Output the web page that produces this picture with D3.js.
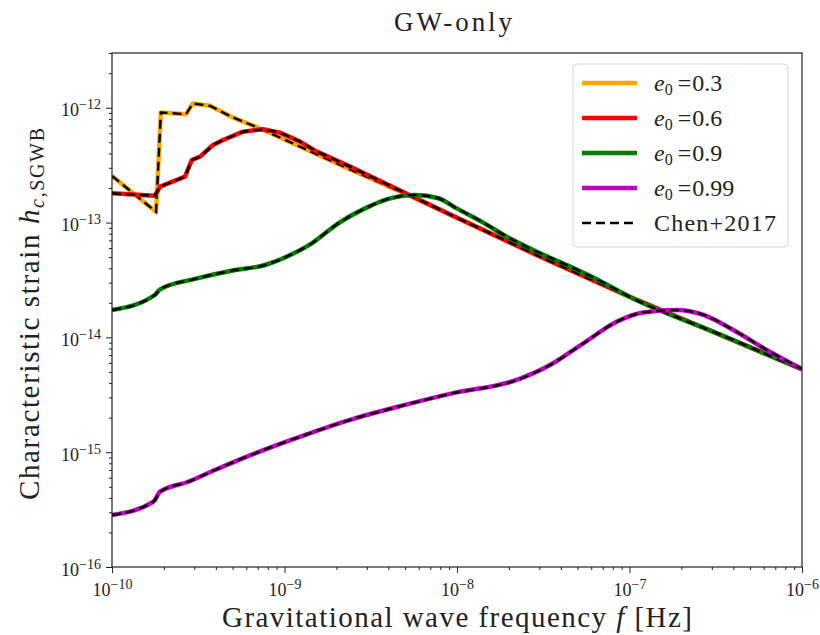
<!DOCTYPE html>
<html>
<head>
<meta charset="utf-8">
<script src="https://cdn.jsdelivr.net/npm/d3@7"></script>
<style>
  body { margin: 0; background: #fff; }
  text { font-family: "Liberation Serif", "DejaVu Serif", serif; fill: #222; }
</style>
</head>
<body>
<div class="board"></div>
<script>
var WIDTH = 820;
var HEIGHT = 635;
var margin = { top: 53, right: 18, bottom: 68, left: 112 };

// values (frequency in Hz, strain)
var f03 = [1.0e-10, 1.80e-10, 1.92e-10, 2.69e-10, 2.94e-10, 3.70e-10, 4.96e-10, 7.21e-10, 1.2e-9, 2.40e-9, 5.20e-9, 1.0e-8, 3.0e-8, 1.0e-7, 3.0e-7, 1.0e-6];
var h03 = [2.55e-13, 1.24e-13, 9.1e-13, 8.8e-13, 1.09e-12, 1.04e-12, 8.3e-13, 6.6e-13, 4.67e-13, 2.90e-13, 1.74e-13, 1.10e-13, 5.09e-14, 2.26e-14, 1.13e-14, 5.28e-15];

var f06 = [1.0e-10, 1.77e-10, 1.90e-10, 2.65e-10, 2.90e-10, 3.24e-10, 3.85e-10, 4.40e-10, 5.75e-10, 7.50e-10, 9.42e-10, 1.23e-9, 1.54e-9, 2.40e-9, 5.20e-9, 1.0e-8, 3.0e-8, 1.0e-7, 3.0e-7, 1.0e-6];
var h06 = [1.80e-13, 1.71e-13, 2.06e-13, 2.51e-13, 3.51e-13, 3.75e-13, 4.74e-13, 5.24e-13, 6.19e-13, 6.50e-13, 6.07e-13, 5.07e-13, 4.15e-13, 3.07e-13, 1.76e-13, 1.10e-13, 5.09e-14, 2.26e-14, 1.13e-14, 5.28e-15];

var f09 = [1.0e-10, 1.77e-10, 1.90e-10, 3.03e-10, 4.94e-10, 7.71e-10, 1.05e-9, 1.44e-9, 2.05e-9, 2.93e-9, 4.00e-9, 5.71e-9, 7.80e-9, 9.96e-9, 1.42e-8, 1.94e-8, 2.76e-8, 4.32e-8, 6.75e-8, 1.0e-7, 3.20e-7, 1.0e-6];
var h09 = [1.73e-14, 2.34e-14, 2.62e-14, 3.23e-14, 3.81e-14, 4.27e-14, 5.12e-14, 6.60e-14, 9.86e-14, 1.33e-13, 1.61e-13, 1.74e-13, 1.63e-13, 1.33e-13, 1.00e-13, 7.54e-14, 5.77e-14, 4.27e-14, 3.10e-14, 2.26e-14, 1.09e-14, 5.28e-15];

var f099 = [1.0e-10, 1.74e-10, 1.90e-10, 2.77e-10, 3.95e-10, 6.75e-10, 1.31e-9, 2.56e-9, 5.00e-9, 9.35e-9, 2.22e-8, 3.46e-8, 5.40e-8, 8.43e-8, 1.20e-7, 1.88e-7, 2.68e-7, 4.00e-7, 6.24e-7, 1.0e-6];
var h099 = [2.84e-16, 3.71e-16, 4.53e-16, 5.53e-16, 7.00e-16, 9.78e-16, 1.41e-15, 1.97e-15, 2.58e-15, 3.25e-15, 4.26e-15, 5.75e-15, 8.88e-15, 1.37e-14, 1.65e-14, 1.73e-14, 1.57e-14, 1.16e-14, 7.77e-15, 5.30e-15];

var eccs = ['0.3', '0.6', '0.9', '0.99'];
var colors = ['#ffa500', '#ff0000', '#008000', '#bf00bf'];
var freqs = [f03, f06, f09, f099];
var strains = [h03, h06, h09, h099];
var smooth = [false, false, true, true];

var xTicks = [1e-10, 1e-9, 1e-8, 1e-7, 1e-6];
var yTicks = [1e-16, 1e-15, 1e-14, 1e-13, 1e-12];

var innerW = WIDTH - margin.left - margin.right;
var innerH = HEIGHT - margin.top - margin.bottom;

var svg = d3.select('.board')
  .append('svg')
  .attr('width', WIDTH)
  .attr('height', HEIGHT);

var g = svg.append('g')
  .attr('transform', 'translate(' + margin.left + ',' + margin.top + ')');

var x = d3.scaleLog().domain([1e-10, 1e-6]).range([0, innerW]);
var y = d3.scaleLog().domain([1e-16, 3e-12]).range([innerH, 0]);

var supLabel = function(sel) {
  sel.each(function(d) {
    var t = d3.select(this);
    var p = Math.round(Math.log10(d));
    t.text(null);
    t.append('tspan').text('10');
    t.append('tspan').attr('dy', '-0.5em').attr('font-size', '0.78em').text('\u2212' + Math.abs(p));
  });
};

var minor = function(scale) {
  return scale.ticks().filter(function(v) {
    var m = v / Math.pow(10, Math.floor(Math.log10(v) + 1e-9));
    return Math.abs(m - 1) > 1e-6;
  });
};

// lines
g.append('clipPath').attr('id', 'clip')
  .append('rect').attr('width', innerW).attr('height', innerH);

var plot = g.append('g').attr('clip-path', 'url(#clip)');

freqs.forEach(function(fs, i) {
  var pts = fs.map(function(f, j) { return [f, strains[i][j]]; });
  var line = d3.line()
    .x(function(d) { return x(d[0]); })
    .y(function(d) { return y(d[1]); })
    .curve(smooth[i] ? d3.curveMonotoneX : d3.curveLinear);
  plot.append('path')
    .attr('d', line(pts))
    .attr('fill', 'none')
    .attr('stroke', colors[i])
    .attr('stroke-width', 4.5)
    .attr('stroke-linejoin', 'round');
  plot.append('path')
    .attr('d', line(pts))
    .attr('fill', 'none')
    .attr('stroke', '#000')
    .attr('stroke-width', 2.4)
    .attr('stroke-dasharray', '9,5');
});

// axes
var xMinor = g.append('g').attr('transform', 'translate(0,' + innerH + ')')
  .call(d3.axisBottom(x).tickValues(minor(x)).tickSize(3).tickFormat(''));
var xMajor = g.append('g').attr('transform', 'translate(0,' + innerH + ')')
  .call(d3.axisBottom(x).tickValues(xTicks).tickSize(6).tickPadding(5));
var yMinor = g.append('g')
  .call(d3.axisLeft(y).tickValues(minor(y).filter(function(v) { return v <= 3e-12; })).tickSize(3).tickFormat(''));
var yMajor = g.append('g')
  .call(d3.axisLeft(y).tickValues(yTicks).tickSize(6).tickPadding(5));

[xMinor, xMajor, yMinor, yMajor].forEach(function(a) {
  a.select('.domain').remove();
  a.selectAll('line').attr('stroke', '#222').attr('stroke-width', 1);
});
xMajor.selectAll('text').attr('font-size', 18).attr('dy', '1em').attr('fill', '#222').call(supLabel);
yMajor.selectAll('text').attr('font-size', 18).attr('dy', '0.45em').attr('fill', '#222').call(supLabel);

g.append('rect')
  .attr('width', innerW)
  .attr('height', innerH)
  .attr('fill', 'none')
  .attr('stroke', '#222')
  .attr('stroke-width', 1.2);

// legend
var lg = g.append('g').attr('transform', 'translate(' + (573 - margin.left) + ',' + (64 - margin.top) + ')');
lg.append('rect')
  .attr('width', 215).attr('height', 183)
  .attr('rx', 4)
  .attr('fill', '#fff').attr('fill-opacity', 0.8)
  .attr('stroke', '#d5d5d5').attr('stroke-width', 1);

var entries = eccs.map(function(e, i) { return { c: colors[i], e: e }; });
entries.push({ c: '#000', e: null });
entries.forEach(function(d, i) {
  var row = lg.append('g').attr('transform', 'translate(0,' + (19 + i * 35) + ')');
  row.append('line')
    .attr('x1', 9).attr('x2', 64)
    .attr('stroke', d.c)
    .attr('stroke-width', d.e ? 4.5 : 2.4)
    .attr('stroke-dasharray', d.e ? null : '9,5');
  var t = row.append('text').attr('x', 81).attr('y', 8).attr('font-size', 24);
  if (d.e) {
    t.append('tspan').attr('font-style', 'italic').text('e');
    t.append('tspan').attr('font-size', 16).attr('dy', 4).text('0');
    t.append('tspan').attr('dy', -4).attr('dx', 5).text('=');
    t.append('tspan').attr('dx', 1).text(d.e);
  } else {
    t.attr('textLength', 122).attr('lengthAdjust', 'spacing').text('Chen+2017');
  }
});

// titles
svg.append('text')
  .attr('x', margin.left + innerW / 2 - 4).attr('y', 31)
  .attr('text-anchor', 'middle').attr('font-size', 27)
  .attr('textLength', 118).attr('lengthAdjust', 'spacing')
  .text('GW-only');

var xl = svg.append('text')
  .attr('x', 222).attr('y', 627)
  .attr('font-size', 29)
  .attr('textLength', 470).attr('lengthAdjust', 'spacing');
xl.append('tspan').text('Gravitational wave frequency ');
xl.append('tspan').attr('font-style', 'italic').text('f');
xl.append('tspan').text(' [Hz]');

var yl = svg.append('text')
  .attr('transform', 'translate(39,500) rotate(-90)')
  .attr('font-size', 29)
  .attr('textLength', 372).attr('lengthAdjust', 'spacing');
yl.append('tspan').text('Characteristic strain ');
yl.append('tspan').attr('font-style', 'italic').text('h');
yl.append('tspan').attr('font-size', 20).attr('dy', 5).attr('font-style', 'italic').text('c');
yl.append('tspan').attr('font-size', 20).text(',SGWB');
</script>
</body>
</html>
